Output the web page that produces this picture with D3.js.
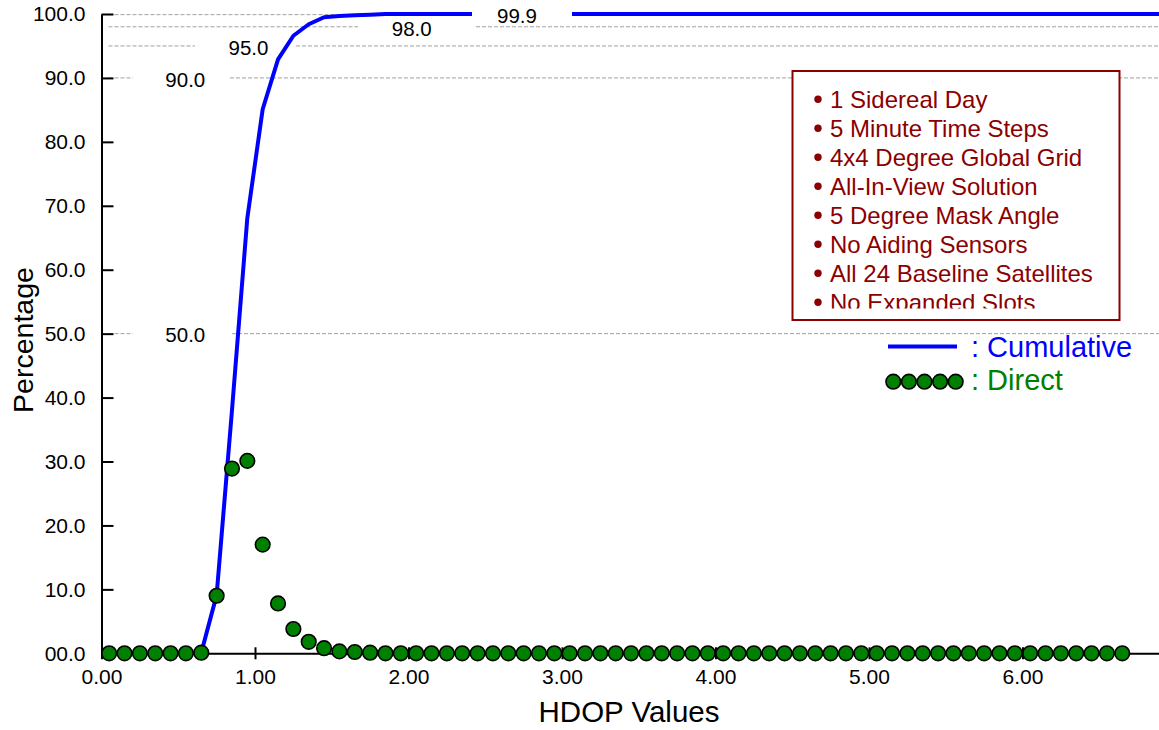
<!DOCTYPE html>
<html>
<head>
<meta charset="utf-8">
<script src="https://cdn.jsdelivr.net/npm/d3@7"></script>
<style>
  html, body { margin: 0; padding: 0; background: #fff; }
  svg { display: block; font-family: "Liberation Sans", Arial, sans-serif; }
</style>
</head>
<body>
<svg id="chart" width="1159" height="730"></svg>
<script>
// ---------- DATA ----------
const hdopValues = [0.05,0.15,0.25,0.35,0.45,0.55,0.65,0.75,0.85,0.95,
  1.05,1.15,1.25,1.35,1.45,1.55,1.65,1.75,1.85,1.95,
  2.05,2.15,2.25,2.35,2.45,2.55,2.65,2.75,2.85,2.95,
  3.05,3.15,3.25,3.35,3.45,3.55,3.65,3.75,3.85,3.95,
  4.05,4.15,4.25,4.35,4.45,4.55,4.65,4.75,4.85,4.95,
  5.05,5.15,5.25,5.35,5.45,5.55,5.65,5.75,5.85,5.95,
  6.05,6.15,6.25,6.35,6.45,6.55,6.65];
const directPct = [0,0,0,0,0,0,0.1,9.0,28.9,30.1,
  17.0,7.8,3.8,1.8,0.8,0.3,0.2,0.1,0,0,
  0,0,0,0,0,0,0,0,0,0,
  0,0,0,0,0,0,0,0,0,0,
  0,0,0,0,0,0,0,0,0,0,
  0,0,0,0,0,0,0,0,0,0,
  0,0,0,0,0,0,0];
const cumHdop = [0.65,0.75,0.85,0.95,1.05,1.15,1.25,1.35,1.45,1.55,1.65,1.75,1.85,1.95,
  2.05,2.15,2.25,2.35,2.45,2.55,2.65,2.75,2.85,2.95,
  3.05,3.15,3.25,3.35,3.45,3.55,3.65,3.75,3.85,3.95,
  4.05,4.15,4.25,4.35,4.45,4.55,4.65,4.75,4.85,4.95,
  5.05,5.15,5.25,5.35,5.45,5.55,5.65,5.75,5.85,5.95,
  6.05,6.15,6.25,6.35,6.45,6.55,6.65,6.75,6.85,6.95];
const cumPct = [0.1,9.1,38.0,68.1,85.1,92.9,96.6,98.4,99.5,99.7,99.8,99.9,100.0,100.0,
  100.0,100.0,100.0,100.0,100.0,100.0,100.0,100.0,100.0,100.0,
  100.0,100.0,100.0,100.0,100.0,100.0,100.0,100.0,100.0,100.0,
  100.0,100.0,100.0,100.0,100.0,100.0,100.0,100.0,100.0,100.0,
  100.0,100.0,100.0,100.0,100.0,100.0,100.0,100.0,100.0,100.0,
  100.0,100.0,100.0,100.0,100.0,100.0,100.0,100.0,100.0,100.0];
const xTicks = [0,1,2,3,4,5,6];
const yTicks = [0,10,20,30,40,50,60,70,80,90,100];
const refValues = [50, 90, 95, 98, 99.9];
const refLabels = ["50.0", "90.0", "95.0", "98.0", "99.9"];
const notes = ["1 Sidereal Day","5 Minute Time Steps","4x4 Degree Global Grid",
  "All-In-View Solution","5 Degree Mask Angle","No Aiding Sensors",
  "All 24 Baseline Satellites","No Expanded Slots"];
const seriesNames = ["Cumulative", "Direct"];

// ---------- LAYOUT ----------
const W = 1159, H = 730;
const X0 = 101.5, PX_PER_UNIT = 153.5;
const Y0 = 653.3, Y100 = 14;
// gaps (pixels) cut into each reference line for its label, and label centres
const refLayout = [
  {gap:[133,232], tx:185.3, cutsCurve:false},
  {gap:[133,230], tx:185.3, cutsCurve:false},
  {gap:[195,296], tx:248.5, cutsCurve:false},
  {gap:[358,476], tx:411.7, cutsCurve:false},
  {gap:[472,572], tx:517,   cutsCurve:true}
];
const BLUE = "#0000ff", GREEN = "#008000", MAROON = "#8b0000";
const FONT = "Liberation Sans, Arial, sans-serif";

const svg = d3.select("#chart");
const x = d3.scaleLinear().domain([0, 6.9]).range([X0, X0 + 6.9 * PX_PER_UNIT]);
const y = d3.scaleLinear().domain([0, 100]).range([Y0, Y100]);

// reference dashed lines, split around their labels
const refG = svg.append("g");
refValues.forEach((v, i) => {
  const L = refLayout[i];
  [[X0 + 7, L.gap[0]], [L.gap[1], W]].forEach(seg => {
    refG.append("line")
      .attr("x1", seg[0]).attr("x2", seg[1])
      .attr("y1", y(v)).attr("y2", y(v))
      .attr("stroke", "#a0a0a0").attr("stroke-width", 1)
      .attr("stroke-dasharray", "4,2");
  });
});

// cumulative line
const cum = cumHdop.map((h, i) => [h, cumPct[i]]);
svg.append("path")
  .datum(cum)
  .attr("fill", "none")
  .attr("stroke", BLUE)
  .attr("stroke-width", 4)
  .attr("stroke-linejoin", "round")
  .attr("d", d3.line().x(d => x(d[0])).y(d => y(d[1])));

// reference labels
refValues.forEach((v, i) => {
  const L = refLayout[i];
  if (L.cutsCurve) {
    svg.append("rect")
      .attr("x", L.gap[0]).attr("width", L.gap[1] - L.gap[0])
      .attr("y", y(v) - 10).attr("height", 20)
      .attr("fill", "#fff");
  }
  svg.append("text")
    .attr("x", L.tx).attr("y", y(v)).attr("dy", "0.43em")
    .attr("text-anchor", "middle")
    .attr("font-size", 20.5).attr("fill", "#000")
    .text(refLabels[i]);
});

// axes
const yAxis = d3.axisLeft(y).tickValues(yTicks)
  .tickSizeInner(-12).tickSizeOuter(0).tickPadding(16)
  .tickFormat(d3.format("04.1f"));
const gy = svg.append("g").attr("transform", `translate(${X0},0)`).call(yAxis);
gy.selectAll("text").attr("font-size", 21).attr("fill", "#000").attr("font-family", FONT);
gy.selectAll("line").attr("stroke", "#000").attr("stroke-width", 2);
gy.select(".domain").attr("stroke", "#000").attr("stroke-width", 2);

const xAxis = d3.axisBottom(x).tickValues(xTicks)
  .tickSizeInner(6).tickSizeOuter(0).tickPadding(10)
  .tickFormat(d3.format(".2f"));
const gx = svg.append("g").attr("transform", `translate(0,${Y0})`).call(xAxis);
gx.selectAll(".tick line").attr("y1", -6).attr("y2", 6).attr("stroke", "#000").attr("stroke-width", 2);
gx.selectAll("text").attr("font-size", 21).attr("fill", "#000").attr("font-family", FONT);
gx.select(".domain").attr("stroke", "#000").attr("stroke-width", 2);

// direct points
svg.append("g").selectAll("circle")
  .data(hdopValues.map((h, i) => [h, directPct[i]]))
  .join("circle")
  .attr("cx", d => x(d[0])).attr("cy", d => y(d[1]))
  .attr("r", 7.3)
  .attr("fill", GREEN).attr("stroke", "#000").attr("stroke-width", 1.6);

// axis titles
svg.append("text")
  .attr("x", 629).attr("y", 721.5)
  .attr("text-anchor", "middle").attr("font-size", 29.5).attr("fill", "#000")
  .text("HDOP Values");
svg.append("text")
  .attr("transform", "translate(32.5,340) rotate(-90)")
  .attr("text-anchor", "middle").attr("font-size", 28.5).attr("fill", "#000")
  .text("Percentage");

// notes box
const box = {x: 792.5, y: 71, w: 327, h: 249};
svg.append("rect")
  .attr("x", box.x).attr("y", box.y).attr("width", box.w).attr("height", box.h)
  .attr("fill", "#fff").attr("stroke", MAROON).attr("stroke-width", 2);
svg.append("clipPath").attr("id", "noteClip")
  .append("rect").attr("x", box.x).attr("y", box.y).attr("width", box.w).attr("height", 308.5 - box.y);
const notesG = svg.append("g").attr("clip-path", "url(#noteClip)");
notes.forEach((t, i) => {
  const base = 107.7 + i * 29;
  notesG.append("circle").attr("cx", 818).attr("cy", base - 8.5).attr("r", 3.7).attr("fill", MAROON);
  notesG.append("text").attr("x", 830).attr("y", base)
    .attr("font-size", 24).attr("fill", MAROON).text(t);
});

// series legend
svg.append("line").attr("x1", 888).attr("x2", 957).attr("y1", 346.5).attr("y2", 346.5)
  .attr("stroke", BLUE).attr("stroke-width", 4);
svg.append("text").attr("x", 971).attr("y", 356.7).attr("font-size", 29)
  .attr("fill", BLUE).text(": " + seriesNames[0]);
const legendDots = [0, 1, 2, 3, 4];
svg.append("g").selectAll("circle").data(legendDots).join("circle")
  .attr("cx", d => 893.3 + d * 15.6).attr("cy", 381.7).attr("r", 7.3)
  .attr("fill", GREEN).attr("stroke", "#000").attr("stroke-width", 1.6);
svg.append("text").attr("x", 971).attr("y", 390).attr("font-size", 29)
  .attr("fill", GREEN).text(": " + seriesNames[1]);
</script>
</body>
</html>
